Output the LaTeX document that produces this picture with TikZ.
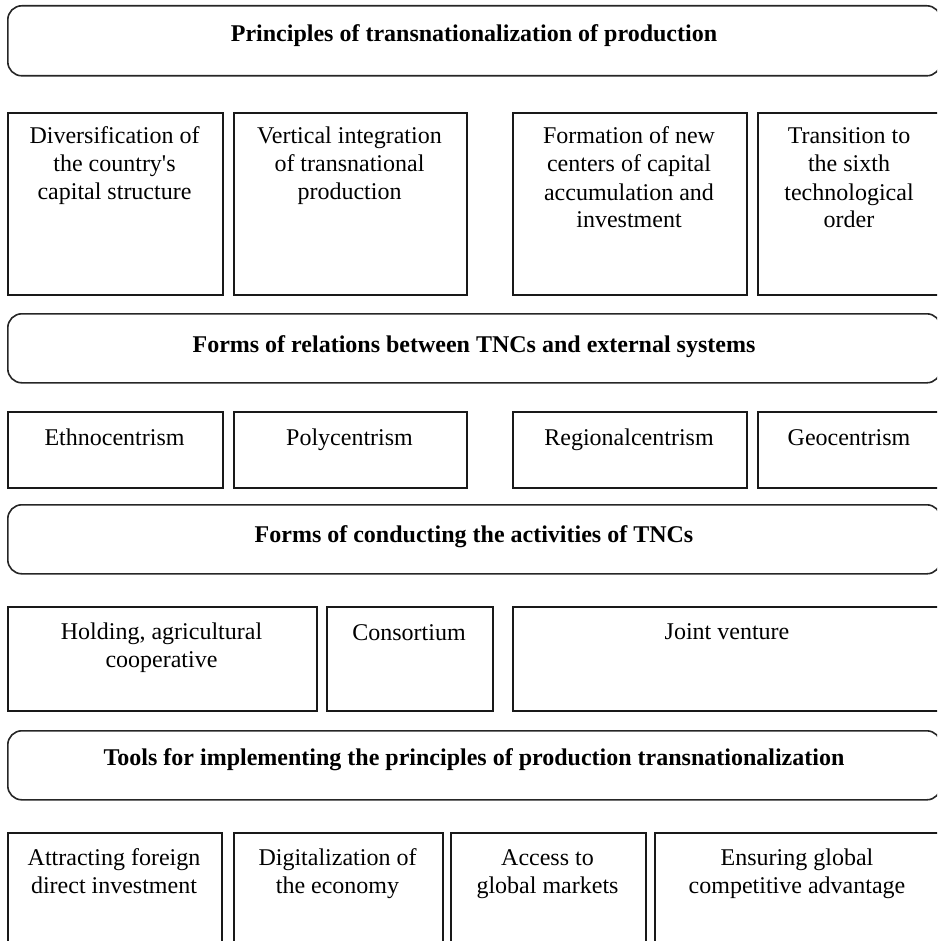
\documentclass[tikz,border=0pt]{standalone}
\usepackage{fontspec}
\setmainfont{Liberation Serif}
\begin{document}
\begin{tikzpicture}[x=1pt,y=-1pt,
  titlebox/.style={draw=black!85, line width=1.6pt, rounded corners=14pt, anchor=north west, inner sep=0pt},
  itembox/.style={draw=black!90, line width=1.6pt, anchor=north west, inner sep=0pt},
  titletext/.style={font=\fontsize{24}{28}\selectfont\bfseries, anchor=base, inner sep=0pt},
  itemtext/.style={font=\fontsize{24}{28}\selectfont, align=center, anchor=base, inner sep=0pt}]
\useasboundingbox (0,0) rectangle (937,941);
\clip (0,0) rectangle (937,941);
% section 1
\node[titlebox, minimum width=933pt, minimum height=70pt] (t1) at (7,5) {};
\node[titletext] (t1t) at (474,42) {Principles of transnationalization of production};
\node[itembox, minimum width=215pt, minimum height=182pt] (a1) at (7,112) {};
\node[itembox, minimum width=233pt, minimum height=182pt] (a2) at (233,112) {};
\node[itembox, minimum width=234pt, minimum height=182pt] (a3) at (512,112) {};
\node[itembox, minimum width=183pt, minimum height=182pt] (a4) at (757,112) {};
\node[itemtext] (a1t) at (114.5,200) {Diversification of\\the country\textquotesingle s\\capital structure};
\node[itemtext] (a2t) at (349.5,200) {Vertical integration\\of transnational\\production};
\node[itemtext] (a3t) at (629,228) {Formation of new\\centers of capital\\accumulation and\\investment};
\node[itemtext] (a4t) at (849,228) {Transition to\\the sixth\\technological\\order};
% section 2
\node[titlebox, minimum width=933pt, minimum height=69pt] (t2) at (7,313) {};
\node[titletext] (t2t) at (474,352) {Forms of relations between TNCs and external systems};
\node[itembox, minimum width=215pt, minimum height=76pt] (b1) at (7,411) {};
\node[itembox, minimum width=233pt, minimum height=76pt] (b2) at (233,411) {};
\node[itembox, minimum width=234pt, minimum height=76pt] (b3) at (512,411) {};
\node[itembox, minimum width=183pt, minimum height=76pt] (b4) at (757,411) {};
\node[itemtext] (b1t) at (114.5,445) {Ethnocentrism};
\node[itemtext] (b2t) at (349.5,445) {Polycentrism};
\node[itemtext] (b3t) at (629,445) {Regionalcentrism};
\node[itemtext] (b4t) at (849,445) {Geocentrism};
% section 3
\node[titlebox, minimum width=933pt, minimum height=69pt] (t3) at (7,504) {};
\node[titletext] (t3t) at (474,542) {Forms of conducting the activities of TNCs};
\node[itembox, minimum width=309pt, minimum height=104pt] (c1) at (7,606) {};
\node[itembox, minimum width=166pt, minimum height=104pt] (c2) at (326,606) {};
\node[itembox, minimum width=428pt, minimum height=104pt] (c3) at (512,606) {};
\node[itemtext] (c1t) at (161.5,667) {Holding, agricultural\\cooperative};
\node[itemtext] (c2t) at (409,640) {Consortium};
\node[itemtext] (c3t) at (727,639) {Joint venture};
% section 4
\node[titlebox, minimum width=933pt, minimum height=69pt] (t4) at (7,730) {};
\node[titletext] (t4t) at (474,765) {Tools for implementing the principles of production transnationalization};
\node[itembox, minimum width=214pt, minimum height=140pt] (d1) at (7,832) {};
\node[itembox, minimum width=209pt, minimum height=140pt] (d2) at (233,832) {};
\node[itembox, minimum width=195pt, minimum height=140pt] (d3) at (450,832) {};
\node[itembox, minimum width=286pt, minimum height=140pt] (d4) at (654,832) {};
\node[itemtext] (d1t) at (114,893) {Attracting foreign\\direct investment};
\node[itemtext] (d2t) at (337.5,893) {Digitalization of\\the economy};
\node[itemtext] (d3t) at (547.5,893) {Access to\\global markets};
\node[itemtext] (d4t) at (797,893) {Ensuring global\\competitive advantage};
\end{tikzpicture}
\end{document}
